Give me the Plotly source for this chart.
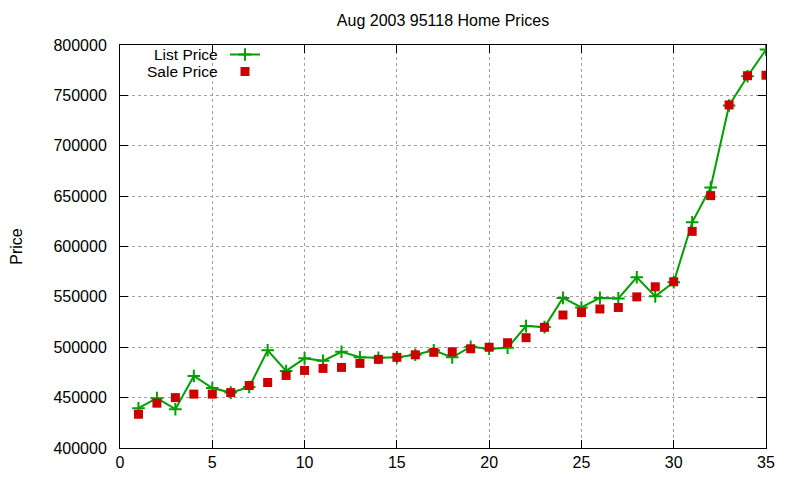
import plotly.graph_objects as go

x = list(range(1, 36))
list_price = [439500, 449500, 438500, 471500, 459500, 455000, 460500, 497000, 476500, 489000,
              486500, 495500, 490000, 489500, 490000, 492500, 497000, 490000, 500500, 498500,
              499500, 521000, 520000, 549000, 539500, 549000, 548500, 569500, 550500, 564500,
              624000, 658500, 740000, 769000, 795500]
sale_price = [433500, 444500, 450000, 453500, 453500, 455000, 462000, 465000, 472000, 477000,
              479000, 480000, 484000, 488000, 490000, 492500, 495000, 495500, 498500, 500000,
              504500, 509500, 519800, 532000, 534500, 538000, 539500, 550000, 560000, 565000,
              615000, 650500, 740500, 769500, 770000]
x_ticks = [0, 5, 10, 15, 20, 25, 30, 35]
y_ticks = [400000, 450000, 500000, 550000, 600000, 650000, 700000, 750000, 800000]

GREEN = "#00a000"
RED = "#cc0000"
FONT = "Liberation Sans, Arial, sans-serif"
FS = 16

fig = go.Figure()
fig.add_trace(go.Scatter(
    x=x, y=list_price, mode="lines+markers", name=" ", legend="legend",
    line=dict(color=GREEN, width=2),
    marker=dict(symbol="cross-thin", size=9, line=dict(color=GREEN, width=2), color=GREEN),
))
fig.add_trace(go.Scatter(
    x=x, y=sale_price, mode="markers", name=" ", legend="legend2",
    marker=dict(symbol="square", size=9, color=RED),
))

axis_common = dict(
    showline=True, linecolor="black", linewidth=1, mirror="ticks",
    ticks="inside", ticklen=8, tickcolor="black",
    showgrid=True, gridcolor="#a0a0a0", griddash="dot", gridwidth=1,
    zeroline=False, tickfont=dict(size=FS, color="black", family=FONT),
    automargin=False,
)
fig.update_xaxes(range=[0, 35], tickvals=x_ticks, ticktext=[str(v) for v in x_ticks], **axis_common)
fig.update_yaxes(range=[400000, 800000], tickvals=y_ticks, ticktext=[str(v) for v in y_ticks],
                 ticklabelstandoff=9,
                 title=dict(text="Price", font=dict(size=FS, color="black", family=FONT), standoff=28),
                 **axis_common)

PW, PH = 646, 403  # plot area size in px
leg_common = dict(xref="paper", yref="paper", xanchor="left", yanchor="middle",
                  bgcolor="rgba(0,0,0,0)", font=dict(size=10))
Y1, Y2 = 9.5, 26.5  # legend row offsets below plot top, px

fig.update_layout(
    width=800, height=480,
    margin=dict(l=112, r=42, t=37, b=40),
    plot_bgcolor="white", paper_bgcolor="white",
    font=dict(family=FONT, size=FS, color="black"),
    title=dict(text="Aug 2003 95118 Home Prices", x=435 / 800, xanchor="center",
               y=1 - 12 / 480, yanchor="middle", font=dict(size=FS, color="black", family=FONT)),
    showlegend=True,
    legend=dict(x=105 / PW, y=1 - Y1 / PH, **leg_common),
    legend2=dict(x=105 / PW, y=1 - Y2 / PH, **leg_common),
    annotations=[
        dict(text="List Price", xref="paper", yref="paper", x=(219 - 120) / PW, y=1 - Y1 / PH,
             xanchor="right", yanchor="middle", showarrow=False, borderpad=0,
             font=dict(size=15.5, family=FONT)),
        dict(text="Sale Price", xref="paper", yref="paper", x=(219 - 120) / PW, y=1 - Y2 / PH,
             xanchor="right", yanchor="middle", showarrow=False, borderpad=0,
             font=dict(size=15.5, family=FONT)),
    ],
)

fig.write_html("out.html")
